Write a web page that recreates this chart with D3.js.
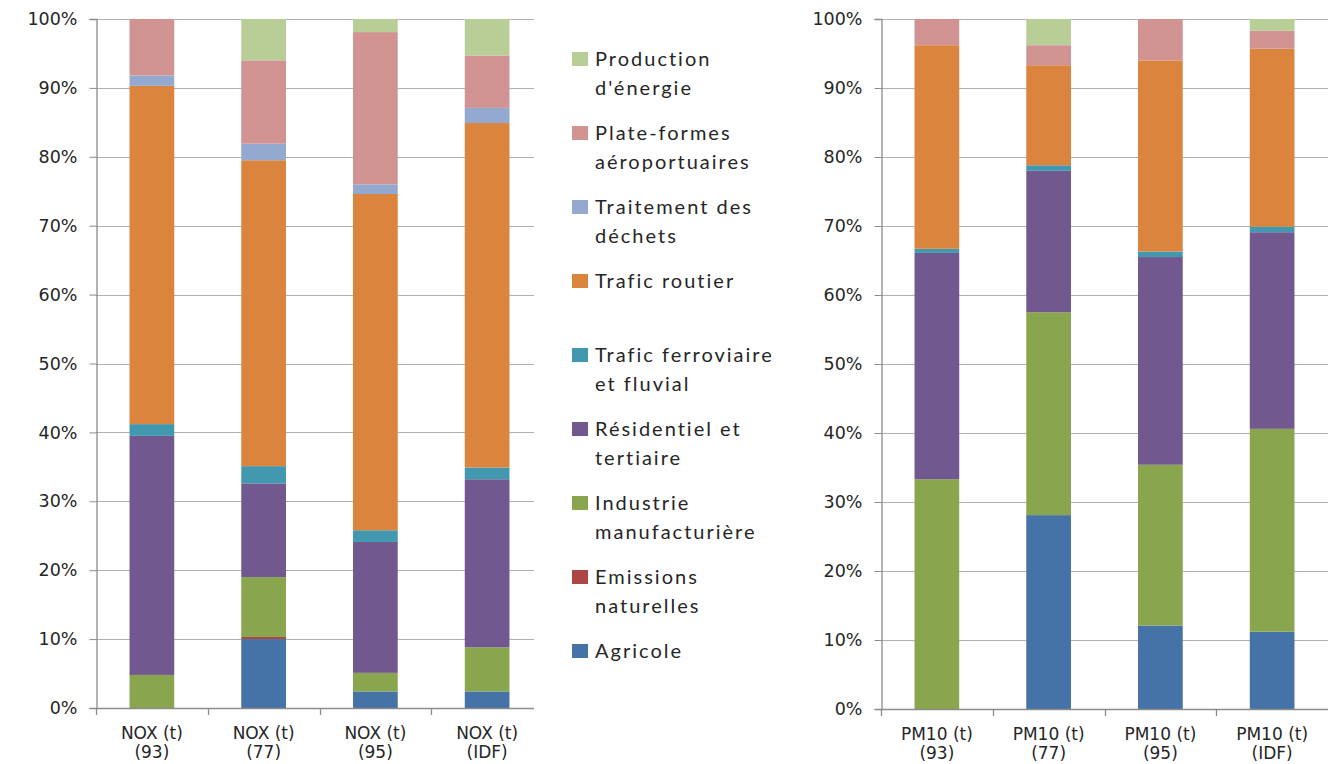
<!DOCTYPE html>
<html>
<head>
<meta charset="utf-8">
<script src="https://cdn.jsdelivr.net/npm/d3@7"></script>
<style>
  body { margin: 0; background: #fff; }
  text { fill: #262626; }
</style>
</head>
<body>
<div id="graf"></div>
<script>
// series, bottom to top of each bar
series = ['Agricole', 'Emissions naturelles', 'Industrie manufacturière',
          'Résidentiel et tertiaire', 'Trafic ferroviaire et fluvial',
          'Trafic routier', 'Traitement des déchets',
          'Plate-formes aéroportuaires', "Production d'énergie"]

colores = ['#4572A7', '#AA4643', '#89A54E', '#71588F', '#4198AF',
           '#DB843D', '#93A9CF', '#D19392', '#B9CD96']

// legend labels (top to bottom), split on two lines
legendLines = [
  ["Production", "d'énergie"],
  ["Plate-formes", "aéroportuaires"],
  ["Traitement des", "déchets"],
  ["Trafic routier"],
  ["Trafic ferroviaire", "et fluvial"],
  ["Résidentiel et", "tertiaire"],
  ["Industrie", "manufacturière"],
  ["Emissions", "naturelles"],
  ["Agricole"]
]

noxLabels  = ['(93)', '(77)', '(95)', '(IDF)']
pm10Labels = ['(93)', '(77)', '(95)', '(IDF)']

// % per series, same order as `series`
nox93  = [0,    0,   4.8, 34.7, 1.7, 49.1, 1.5,  8.2, 0]
nox77  = [10.0, 0.3, 8.7, 13.6, 2.5, 44.4, 2.4, 12.1, 6.0]
nox95  = [2.4,  0,   2.7, 19.0, 1.7, 48.8, 1.4, 22.1, 1.9]
noxIDF = [2.4,  0,   6.4, 24.4, 1.7, 50.0, 2.2,  7.6, 5.3]

pm93  = [0,    0, 33.3, 32.8, 0.6, 29.5, 0, 3.8, 0]
pm77  = [28.1, 0, 29.4, 20.5, 0.8, 14.5, 0, 2.9, 3.8]
pm95  = [12.1, 0, 23.3, 30.1, 0.8, 27.7, 0, 6.0, 0]
pmIDF = [11.2, 0, 29.4, 28.5, 0.8, 25.8, 0, 2.6, 1.7]

yTicks = [0, 0.1, 0.2, 0.3, 0.4, 0.5, 0.6, 0.7, 0.8, 0.9, 1]

ancho_total = 1328
alto_total = 764
fuenteEje = "'DejaVu Sans', Verdana, sans-serif"

svg = d3.select('#graf').append('svg')
        .attr('width', ancho_total)
        .attr('height', alto_total)
        .style('font-family', fuenteEje)

function toRows(rows, labels, prefix) {
  return rows.map((r, i) => {
    let o = { key: prefix + labels[i], l1: prefix.trim(), l2: labels[i] }
    series.forEach((s, j) => o[s] = r[j])
    return o
  })
}

function render(data, left, right, top, bottom, gridRight) {
  var g = svg.append('g')

  var x = d3.scaleBand()
            .domain(data.map(d => d.key))
            .range([left, right])
            .paddingInner(0.6)
            .paddingOuter(0.3)

  var y = d3.scaleLinear().domain([0, 1]).range([bottom, top])

  // grid
  g.append('g').selectAll('line')
   .data(yTicks.slice(1))
   .enter().append('line')
   .attr('x1', left).attr('x2', gridRight)
   .attr('y1', d => Math.round(y(d)) + 0.5)
   .attr('y2', d => Math.round(y(d)) + 0.5)
   .attr('stroke', '#b0b0b0')
   .attr('stroke-width', 1.2)

  // bars
  var stack = d3.stack().keys(series).offset(d3.stackOffsetExpand)
  g.append('g').selectAll('g')
   .data(stack(data))
   .enter().append('g')
     .attr('fill', (d, i) => colores[i])
   .selectAll('rect')
   .data(d => d)
   .enter().append('rect')
     .attr('x', d => x(d.data.key))
     .attr('width', x.bandwidth())
     .attr('y', d => y(d[1]))
     .attr('height', d => y(d[0]) - y(d[1]))

  // Y axis
  var yAxis = d3.axisLeft(y)
                .tickValues(yTicks)
                .tickFormat(d3.format('.0%'))
                .tickSize(7)
                .tickPadding(12)
  var ya = g.append('g')
   .attr('transform', `translate(${ left + 0.5 },0)`)
   .call(yAxis)
  ya.attr('font-family', null).attr('font-size', null)
  ya.select('.domain').attr('stroke', '#8c8c8c').attr('stroke-width', 1.3)
  ya.selectAll('.tick line').attr('stroke', '#8c8c8c')
  ya.selectAll('.tick text')
    .style('font-family', fuenteEje)
    .style('font-size', '17.5px')
    .attr('fill', '#262626')

  // X axis line + ticks between categories
  var step = x.step()
  var bounds = d3.range(data.length).map(i => left + i * step)
  g.append('line')
   .attr('x1', left).attr('x2', gridRight)
   .attr('y1', bottom + 0.5).attr('y2', bottom + 0.5)
   .attr('stroke', '#8c8c8c').attr('stroke-width', 1.3)
  g.append('g').selectAll('line')
   .data(bounds)
   .enter().append('line')
   .attr('x1', d => Math.round(d) + 0.5).attr('x2', d => Math.round(d) + 0.5)
   .attr('y1', bottom).attr('y2', bottom + 7)
   .attr('stroke', '#8c8c8c').attr('stroke-width', 1.3)

  // category labels, two separate text lines
  var cats = g.append('g').selectAll('g')
   .data(data)
   .enter().append('g')
   .attr('transform', d => `translate(${ x(d.key) + x.bandwidth() / 2 },${ bottom })`)
  cats.append('text')
   .attr('text-anchor', 'middle')
   .style('font-family', fuenteEje)
   .style('font-size', '17px')
   .attr('y', 31)
   .text(d => d.l1)
  cats.append('text')
   .attr('text-anchor', 'middle')
   .style('font-family', fuenteEje)
   .style('font-size', '17px')
   .attr('y', 50)
   .text(d => d.l2)
}

render(toRows([nox93, nox77, nox95, noxIDF], noxLabels, 'NOX (t) '), 96, 543, 19, 708, 534)
render(toRows([pm93, pm77, pm95, pmIDF], pm10Labels, 'PM10 (t) '), 881, 1328, 19, 709, 1328)

// LEYENDA
var legend = svg.append('g')
   .attr('class', 'legend')
   .style('font-family', 'Lato, Carlito, Calibri, sans-serif')
   .selectAll('g')
   .data(legendLines)
   .enter().append('g')
   .attr('transform', (d, i) => `translate(572,${ 59 + i * 74 })`)

legend.append('rect')
   .attr('x', 0).attr('y', -7)
   .attr('width', 16).attr('height', 14)
   .attr('fill', (d, i) => colores[series.length - 1 - i])

var lt = legend.append('text')
   .attr('x', 23)
   .attr('y', 7)
   .style('font-size', '20px')
   .style('letter-spacing', '2px')
lt.selectAll('tspan')
  .data(d => d)
  .enter().append('tspan')
  .attr('x', 23)
  .attr('dy', (d, i) => i ? 29 : 0)
  .text(d => d)
</script>
</body>
</html>
